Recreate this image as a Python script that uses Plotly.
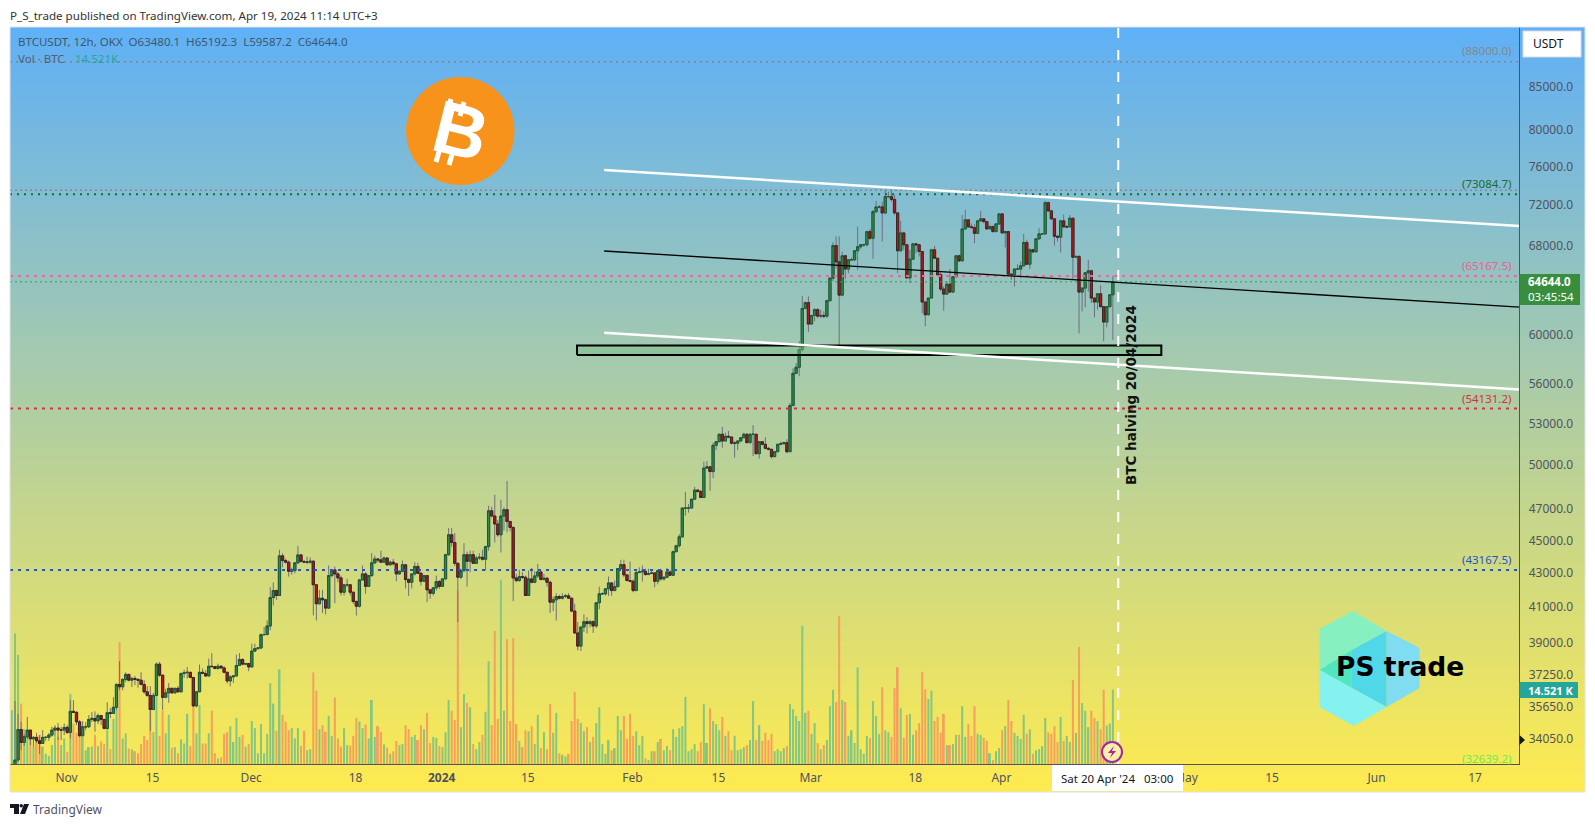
import numpy as np
import pandas as pd
import plotly.graph_objects as go

W, H = 1595, 827

# 12h candles, BTCUSDT OKX, the first one sits below the visible range
start_time = "2023-10-23 03:00"

close_prices = [32700,
    33075,34520,33900,34170,34490,34070,34140,33980,33850,34140,
    34140,34250,34490,34590,34490,34490,34620,34380,35410,35360,
    34890,34220,34650,34650,35010,35060,34940,35200,35010,34570,
    35340,35310,35610,36770,36650,37030,37290,36990,37080,37030,
    36990,36770,36390,36210,35500,36210,37830,37250,36110,36340,
    36570,36340,36570,36390,37340,37380,37400,37130,35680,36390,
    37400,37340,37210,37720,37700,37600,37720,37630,37400,36950,
    37160,37210,37760,38080,37830,37860,37680,38530,38660,38700,
    39430,39430,39910,41530,41940,41650,44030,43740,43640,43090,
    43130,43600,44090,43680,43640,43640,43700,42280,41170,41490,
    41400,40920,42830,43170,42930,42690,41840,42280,42280,41840,
    41300,41030,42570,42930,42190,42830,43600,43840,43780,43640,
    43900,43480,43640,43540,42930,43090,43480,42590,42430,42930,
    43380,42970,42490,42830,41980,41780,42100,42470,42190,42630,
    44100,45350,44860,43570,42730,43130,44100,43700,44100,43570,
    43900,43940,43820,44600,46900,46560,46040,45350,46560,46970,
    46200,45820,42690,42530,42770,42730,41650,42630,42430,42810,
    43050,42590,42670,42430,41260,41400,41590,41490,41590,41630,
    41490,40750,39520,38800,39850,40150,40040,40150,39910,41230,
    41750,41750,42040,42390,41940,42170,43250,43490,42870,42530,
    42490,41940,43010,43050,43090,42890,42950,42990,42490,43130,
    42630,42730,43050,42850,44290,44660,45220,47080,47080,47080,
    47670,48280,48190,47780,49790,49880,49550,51410,51670,52210,
    51720,52060,52010,51560,51560,51720,51960,52210,51600,52210,
    52210,50810,51670,51480,51190,51120,50600,50950,51480,51520,
    51600,50950,54360,56870,57350,58790,62280,62790,60930,61670,
    62170,61610,61670,61610,62960,64980,68020,66480,63450,67050,
    65810,66670,66670,67520,67900,68090,68090,69360,68710,71330,
    71800,71800,71200,72840,72840,72560,71200,67520,69230,68090,
    65000,66730,68180,68090,67450,62840,61730,63190,67610,66820,
    65290,63990,63540,64430,63720,65110,67050,66570,69620,70510,
    69820,69750,69190,70410,70610,70340,69620,69850,69360,70110,
    71100,69230,69360,65340,65290,65810,65810,66110,68310,66260,
    67610,67420,68660,69140,69140,72230,71400,70610,68910,68820,
    70410,69820,69820,70670,66910,66980,63720,64080,65470,65650,
    63190,62840,63570,62430,61100,62430,63480,64644]

high_prices = [32800,
    35930,35270,34890,34300,35130,34490,34200,34360,34250,34490,
    34200,34350,34650,34730,34840,34650,34810,34730,35970,35970,
    35420,34975,34930,34880,35220,35370,35410,35310,35170,34975,
    35860,35570,36120,36830,37990,37080,37400,37320,37160,37210,
    37080,37400,36990,36680,36680,36330,37920,37950,37250,36550,
    36850,36600,36590,36680,37380,37540,37680,37420,37160,36390,
    37810,37600,37510,38130,38420,37680,37860,37770,37720,37420,
    37250,37250,38340,38420,38130,37900,37900,38930,38930,38750,
    39490,39850,40220,42140,42430,42000,44410,44190,43860,43740,
    43310,43310,44660,44100,43780,43980,43940,43740,42300,41980,
    41980,41460,43440,43170,43380,43030,42830,42330,42630,42240,
    41880,41360,42630,43440,43030,42870,44200,44040,43880,44350,
    43980,43900,43740,43840,43600,43130,43740,43540,42670,42930,
    43640,43600,43030,42870,42830,41980,42140,42830,42570,42670,
    44160,45780,45780,45460,43640,43240,44820,44290,44350,44350,
    44040,44190,44410,44660,47230,47160,47960,46300,47630,47120,
    48910,46250,45870,42930,43170,43030,42830,43130,43290,43090,
    43540,43090,42930,42730,42530,41590,41780,41690,41780,41750,
    41790,41550,41170,40130,39850,40560,40410,40260,40220,41260,
    42170,41840,42060,42770,42430,42530,43290,43780,43800,42930,
    43680,42590,43170,43330,43440,43240,43240,43130,43030,43170,
    43240,42770,43290,43130,44350,44720,45390,47120,48160,47340,
    47670,48500,48340,48280,50240,50290,49880,51600,51720,52250,
    52750,52320,52450,52010,51720,51770,52010,52320,52280,52280,
    52890,52210,51720,51720,52010,51290,51170,51000,51520,51670,
    51670,51840,54560,57270,57680,59480,63380,62900,63340,61590,
    62310,62310,62170,62020,63050,65040,68330,68900,68900,67450,
    67130,66750,66880,67520,69850,68140,68210,69430,69620,71500,
    72400,72000,72330,73530,73350,73420,73010,71260,70410,69360,
    68090,67610,68240,68240,68020,67450,62840,63190,67700,67990,
    66820,65590,64230,64680,65810,65110,67130,67130,71000,71500,
    70510,70170,70070,70510,71400,70610,70000,70000,69930,70170,
    71160,71100,69430,69430,65430,65880,66260,66510,69140,68560,
    67770,67700,68710,69680,69190,72430,72330,71500,70670,69030,
    70510,71060,70000,71000,70670,67130,67130,64080,65530,66670,
    65750,63250,63620,64320,62460,62460,63340,65192]

low_prices = [32500,
    32900,33000,33540,33730,34060,33770,33700,33880,33350,33820,
    33980,33980,34170,34170,34010,34010,34250,34300,34090,35340,
    34730,34150,34490,34490,34590,34880,34410,34780,34730,34520,
    34550,35080,35420,35470,36470,36470,36900,36930,36640,36730,
    36600,36730,36300,36140,34450,35470,36170,37160,35470,36060,
    35840,36300,36300,36390,36390,37110,37080,37110,35630,35610,
    36390,37340,37160,37200,37680,37560,37540,37630,37340,36820,
    36680,36850,37200,37770,37770,37770,37460,37680,38480,38630,
    38630,39390,39430,39670,41070,41400,41650,43330,43560,42770,
    42890,42970,43540,43640,43600,43540,43540,40500,40220,41130,
    40640,40560,40880,42730,41200,42430,41650,41650,42140,41650,
    41170,40500,40950,42530,41750,42170,42750,43540,43640,43600,
    43600,43440,43440,43440,42490,42870,43030,42060,41630,42060,
    42830,42930,42240,42490,41260,41460,41650,41940,42040,42170,
    42590,44040,44600,43400,40130,42630,43030,42170,43030,43540,
    43540,43780,43740,43130,44350,46470,44860,45220,44240,45610,
    45500,45570,41320,42430,42470,42630,41650,42040,42370,42370,
    42690,42570,42570,42170,40640,40750,40220,41420,41420,41510,
    41460,40690,39490,38570,38530,39570,39490,39820,39520,39800,
    40850,41700,41650,41630,41630,41940,42140,43240,42730,42490,
    42430,41840,41900,42990,42470,42830,42870,42930,42140,42300,
    42530,42530,42690,42810,42810,44230,44540,45180,46580,46780,
    47080,47630,48120,47780,47780,49790,48230,49090,51070,51670,
    51240,51720,51920,51480,50530,51070,51670,51920,51600,51560,
    50640,50760,50460,51410,51120,51050,50460,50530,50950,51410,
    51520,50830,51000,54310,56790,56630,58600,62200,60250,60880,
    61160,61440,61440,61440,61440,62840,64680,65880,59060,63340,
    64920,65430,66570,66510,65750,67700,67900,67930,68560,66750,
    71160,71660,68400,71060,72730,72330,71000,65430,67450,67610,
    64980,64520,66670,67290,66980,61870,60740,61670,63190,66750,
    65220,63780,62080,63540,63720,63720,65040,66510,66570,69620,
    69750,69680,68240,69190,70340,70170,69620,69680,69260,69290,
    70000,69170,67830,65290,64830,64230,65750,64980,66050,66200,
    65810,67290,67380,68560,69030,69030,71330,70510,68020,68400,
    67360,69680,69680,69750,64830,66880,60140,62020,62370,63780,
    62750,61500,62170,62370,59480,60650,62370,59587]

# volume in thousands of BTC
volumes = [10.5,
    25.5,21.3,11.8,6.8,5.7,6.3,3.4,5.2,5.7,3.4,
    2.0,1.6,3.7,5.2,5.3,3.7,5.0,2.4,13.7,7.9,
    6.1,5.3,7.0,2.7,3.3,3.4,5.7,3.5,4.4,3.9,
    7.3,2.9,8.8,11.0,23.8,5.0,6.0,3.0,2.9,2.5,
    2.1,3.9,5.5,4.7,10.5,6.2,13.5,5.5,10.4,6.0,
    9.6,3.2,3.3,2.1,4.8,4.0,9.8,3.5,11.3,6.0,
    11.5,4.0,4.0,6.0,10.4,2.1,1.1,1.3,5.9,6.2,
    7.4,4.3,9.0,5.3,5.7,3.4,3.9,8.4,7.0,2.1,
    7.8,2.1,5.9,15.8,11.8,6.5,18.5,9.6,8.3,6.6,
    7.0,5.0,7.0,3.5,6.5,2.7,2.9,17.9,14.3,6.8,
    7.6,6.3,9.4,5.5,13.0,5.0,3.4,7.0,3.7,3.6,
    5.5,9.0,8.3,7.0,7.7,5.0,12.5,5.3,7.4,6.2,
    3.8,3.2,2.0,2.5,4.5,3.7,3.9,7.6,6.8,5.3,
    5.7,4.7,7.6,6.8,10.0,4.1,5.3,5.1,3.5,3.3,
    6.2,12.5,10.4,8.6,33.9,7.2,13.7,11.9,11.1,3.9,
    2.9,4.3,5.7,10.2,20.1,7.6,26.0,8.8,36.0,10.4,
    24.4,8.4,24.6,7.8,4.5,3.3,6.6,6.4,7.4,3.9,
    9.6,3.1,6.2,2.9,11.7,6.1,10.0,2.1,1.8,1.5,
    2.0,8.4,14.1,8.8,8.0,6.4,7.2,4.3,5.3,8.0,
    11.1,3.9,2.0,4.7,2.7,3.1,9.4,6.6,9.4,4.9,
    9.8,5.5,6.4,3.7,5.5,1.1,0.8,2.5,2.5,4.3,
    4.9,2.7,3.5,2.7,6.8,5.3,7.0,7.4,13.1,2.5,
    2.9,3.9,2.5,4.3,11.7,4.1,10.9,8.4,7.8,6.6,
    9.2,5.5,6.4,2.7,5.5,2.7,2.9,3.3,3.7,4.7,
    12.3,4.7,7.6,4.5,6.1,4.7,5.9,2.5,2.9,2.5,
    3.1,3.5,11.7,10.7,9.4,8.4,27.0,10.0,10.4,5.9,
    8.0,4.1,2.9,3.7,4.7,11.3,14.5,12.1,28.9,12.5,
    12.1,5.5,6.6,4.1,18.9,2.9,2.0,5.5,5.1,12.3,
    9.4,5.9,15.0,6.6,6.2,5.3,14.8,18.9,10.9,5.1,
    9.6,9.8,5.7,6.6,8.0,18.0,14.6,12.7,14.3,8.4,
    9.2,6.1,9.8,3.7,3.7,3.9,5.7,5.7,11.3,5.3,
    7.8,5.5,11.3,5.9,5.7,5.1,4.5,2.1,0.8,2.5,
    3.1,6.6,7.4,12.5,8.4,6.1,5.5,4.9,9.6,5.9,
    6.8,2.0,2.7,2.9,3.5,9.0,6.2,5.9,7.4,4.3,
    9.2,4.5,5.5,4.3,16.4,6.1,22.9,11.9,10.4,7.2,
    10.4,9.0,8.4,6.8,14.5,7.5,7.9,14.521]

price_ticks = [85000, 80000, 76000, 72000, 68000, 60000, 56000, 53000, 50000,
               47000, 45000, 43000, 41000, 39000, 37250, 35650, 34050]

time_ticks = ["2023-11-01", "2023-11-15", "2023-12-01", "2023-12-18", "2024-01-01", "2024-01-15",
              "2024-02-01", "2024-02-15", "2024-03-01", "2024-03-18", "2024-04-01",
              "2024-05-01", "2024-05-15", "2024-06-01", "2024-06-17"]
time_labels = ["Nov", "15", "Dec", "18", "<b>2024</b>", "15", "Feb", "15", "Mar", "18", "Apr",
               "May", "15", "Jun", "17"]

x_view = ["2023-10-22 19:30", "2024-06-24 04:50"]
y_view = [32890, 92390]

# dotted levels: value, colour, width
level_values = [88000.0, 73500.0, 73084.7, 65167.5, 64644.0, 54131.2, 43167.5]
level_colors = ["#8d7f86", "#8d6f78", "#1b6b35", "#f0649a", "#3d9b3d", "#d5303a", "#1f55c8"]
level_widths = [1.5, 1, 2, 2, 1, 2, 2]
level_dash = ["2px,4px", "2px,3px", "2px,5px", "3px,5px", "2px,3px", "3px,5px", "3px,5px"]

# channel lines
channel_x = ["2024-01-27 10:00", "2024-06-24 04:50"]
upper_line = [75610, 69900]
middle_line = [67500, 62400]
lower_line = [60200, 55590]

# support zone
zone_x = ["2024-01-23", "2024-04-27"]
zone_y = [58350, 59120]

halving_x = "2024-04-20 00:00"


def px(x):
    return x / W


def py(y):
    return 1 - y / H


def path(points):
    return "M " + " L ".join(f"{px(x):.5f},{py(y):.5f}" for x, y in points) + " Z"


dates = pd.date_range(start_time, periods=len(close_prices), freq="12h")
closes = np.array(close_prices, dtype=float)
opens = np.concatenate([[32600.0], closes[:-1]])
highs = np.maximum.reduce([np.array(high_prices, dtype=float), opens, closes])
lows = np.minimum.reduce([np.array(low_prices, dtype=float), opens, closes])
vol_colors = ["#85c781" if c >= o else "#f5a05c" for o, c in zip(opens, closes)]

fig = go.Figure()

# gradient behind the whole chart
grad_y = np.linspace(0, 1, 380)
fig.add_trace(go.Heatmap(x=[0, 1], y=grad_y, z=[[v, v] for v in grad_y],
                         colorscale=[[0, "#ffeb4f"], [1, "#5fb0f7"]], showscale=False,
                         hoverinfo="skip", xaxis="x", yaxis="y"))

fig.add_trace(go.Bar(x=dates, y=volumes, marker=dict(color=vol_colors, line=dict(width=0)),
                     xaxis="x2", yaxis="y2", showlegend=False))

# wicks first, bodies on top because the wicks are grey and the borders dark
fig.add_trace(go.Candlestick(x=dates, open=opens, high=highs, low=lows, close=closes,
                             whiskerwidth=0, xaxis="x2", yaxis="y3", showlegend=False,
                             increasing=dict(line=dict(color="#6f6f80", width=1), fillcolor="#6f6f80"),
                             decreasing=dict(line=dict(color="#6f6f80", width=1), fillcolor="#6f6f80")))
fig.add_trace(go.Candlestick(x=dates, open=opens, close=closes,
                             high=np.maximum(opens, closes), low=np.minimum(opens, closes),
                             whiskerwidth=0, xaxis="x2", yaxis="y3", showlegend=False,
                             increasing=dict(line=dict(color="#1d5a34", width=1), fillcolor="#2c8c48"),
                             decreasing=dict(line=dict(color="#43231f", width=1), fillcolor="#b8141c")))

for val, col, wd, ds in zip(level_values, level_colors, level_widths, level_dash):
    fig.add_trace(go.Scatter(x=x_view, y=[val, val], mode="lines", xaxis="x2", yaxis="y3",
                             line=dict(color=col, width=wd, dash=ds), showlegend=False, hoverinfo="skip"))

fig.add_trace(go.Scatter(x=[zone_x[0], zone_x[1], zone_x[1], zone_x[0], zone_x[0]],
                         y=[zone_y[0], zone_y[0], zone_y[1], zone_y[1], zone_y[0]],
                         mode="lines", fill="toself", fillcolor="rgba(120,190,130,0.45)",
                         line=dict(color="#000000", width=2), xaxis="x2", yaxis="y3",
                         showlegend=False, hoverinfo="skip"))
fig.add_trace(go.Scatter(x=channel_x, y=upper_line, mode="lines", line=dict(color="#ffffff", width=2.5),
                         xaxis="x2", yaxis="y3", showlegend=False, hoverinfo="skip"))
fig.add_trace(go.Scatter(x=channel_x, y=lower_line, mode="lines", line=dict(color="#ffffff", width=2.5),
                         xaxis="x2", yaxis="y3", showlegend=False, hoverinfo="skip"))
fig.add_trace(go.Scatter(x=channel_x, y=middle_line, mode="lines", line=dict(color="#000000", width=1.3),
                         xaxis="x2", yaxis="y3", showlegend=False, hoverinfo="skip"))
fig.add_trace(go.Scatter(x=[halving_x, halving_x], y=y_view, mode="lines",
                         line=dict(color="#ffffff", width=2, dash="10px,12px"),
                         xaxis="x2", yaxis="y3", showlegend=False, hoverinfo="skip"))

FONT = "Noto Sans"
GREY = "#50535e"


def note(x, y, text, size=12, color=GREY, anchor="left", angle=0, family=FONT, **kw):
    fig.add_annotation(x=px(x), y=py(y), xref="paper", yref="paper", text=text, showarrow=False,
                       xanchor=anchor, yanchor="middle", textangle=angle,
                       font=dict(family=family, size=size, color=color), **kw)


note(8, 15, "P_S_trade published on TradingView.com, Apr 19, 2024 11:14 UTC+3", size=11.6, color="#333333")
note(16, 42, "BTCUSDT, 12h, OKX&nbsp;&nbsp;O63480.1&nbsp;&nbsp;H65192.3&nbsp;&nbsp;L59587.2&nbsp;&nbsp;C64644.0",
     size=11.5, color="#3c5a6e")
note(16, 59, "Vol · BTC", size=11.5, color="#52606e")
note(73, 59, "14.521K", size=11.5, color="#26a69a")
note(31, 809, "TradingView", size=12, color="#50535e")

note(1513, 51, "(88000.0)", size=11.5, color="#84878f", anchor="right")
note(1513, 184, "(73084.7)", size=11.5, color="#1b6b35", anchor="right")
note(1513, 265, "(65167.5)", size=11.5, color="#ec5f93", anchor="right")
note(1513, 398, "(54131.2)", size=11.5, color="#d5303a", anchor="right")
note(1513, 559, "(43167.5)", size=11.5, color="#1f55c8", anchor="right")
note(1513, 758, "(32639.2)", size=11.5, color="#66ee55", anchor="right")

note(1131, 395, "<b>BTC halving 20/04/2024</b>", size=13.5, color="#111111", anchor="center", angle=-90,
     family="DejaVu Sans")
note(1117, 778, "Sat 20 Apr '24&nbsp;&nbsp;&nbsp;03:00", size=11.5, color="#131722", anchor="center")
note(1531, 44, "USDT", size=12, color="#131722")
note(1526, 289, "<b>64644.0</b><br>03:45:54", size=11.5, color="#ffffff", align="left")
note(1526, 690, "<b>14.521 K</b>", size=11, color="#ffffff")
note(1400, 666, "<b>PS trade</b>", size=26.5, color="#000000", anchor="center", family="DejaVu Sans")
note(460, 131, "<b>B</b>", size=74, color="#ffffff", anchor="center", angle=14, family="Liberation Sans")

shapes = []


def box(x0, y0, x1, y1, fill, line="rgba(0,0,0,0)", width=0):
    shapes.append(dict(type="rect", xref="paper", yref="paper", x0=px(x0), x1=px(x1), y0=py(y0), y1=py(y1),
                       fillcolor=fill, line=dict(color=line, width=width), layer="above"))


def poly(points, fill):
    shapes.append(dict(type="path", xref="paper", yref="paper", path=path(points), fillcolor=fill,
                       line=dict(width=0), layer="above"))


box(10, 27, 1585, 792, "rgba(0,0,0,0)", "#dfe2e8", 1)
box(1052, 765, 1183, 791, "#ffffff")
box(1519.5, 274, 1580, 305, "#388e3c")
box(1519.5, 682, 1578, 698, "#26a69a")
box(1523, 31, 1581, 57, "#ffffff", "#d8dce6", 1)
poly([(1519.5, 735), (1525, 740), (1519.5, 745)], "#131722")

# bitcoin coin
shapes.append(dict(type="circle", xref="paper", yref="paper", x0=px(406), x1=px(514.5), y0=py(77), y1=py(185),
                   fillcolor="#f7931a", line=dict(width=0), layer="above"))
for a, b in [((451, 99), (447, 113)), ((464, 102), (460, 116)), ((440, 148), (436, 162)), ((453, 151), (449, 165))]:
    shapes.append(dict(type="line", xref="paper", yref="paper", x0=px(a[0]), y0=py(a[1]), x1=px(b[0]), y1=py(b[1]),
                       line=dict(color="#ffffff", width=5), layer="above"))

# PS trade hexagons
poly([(1352.5, 611), (1386.7, 631), (1351.8, 650), (1319.6, 670), (1319.6, 629)], "#86f0c0")
poly([(1319.6, 670), (1351.8, 650), (1351.8, 688)], "#50e6c0")
poly([(1351.8, 650), (1386.7, 631), (1386.7, 707), (1351.8, 688)], "#50d8e8")
poly([(1386.7, 631), (1419.6, 648), (1419.6, 688), (1386.7, 707)], "#80dcf0")
poly([(1319.6, 670), (1351.8, 688), (1386.7, 707), (1353.7, 726), (1319.6, 707)], "#85f2f0")

# halving marker at the last bar
shapes.append(dict(type="circle", xref="paper", yref="paper", x0=px(1102), x1=px(1122), y0=py(742), y1=py(762),
                   fillcolor="#fdf0a0", line=dict(color="#9c27b0", width=2), layer="above"))
poly([(1114, 746), (1108, 753), (1112, 753), (1110, 758), (1116, 751), (1112, 751)], "#9c27b0")

# TradingView mark
poly([(10, 804), (19, 804), (19, 814), (14, 814), (14, 808), (10, 808)], "#131722")
poly([(24, 804), (29, 804), (25, 814), (20, 814)], "#131722")
shapes.append(dict(type="circle", xref="paper", yref="paper", x0=px(19.5), x1=px(23), y0=py(804), y1=py(807.5),
                   fillcolor="#131722", line=dict(width=0), layer="above"))

fig.update_layout(
    width=W, height=H, margin=dict(l=0, r=0, t=0, b=0), paper_bgcolor="#ffffff", plot_bgcolor="rgba(0,0,0,0)",
    showlegend=False, bargap=0.35, boxgap=0.2, boxgroupgap=0.1, shapes=shapes, hovermode=False,
    xaxis=dict(domain=[px(10), px(1585)], range=[0, 1], visible=False, anchor="y"),
    yaxis=dict(domain=[py(792), py(27)], range=[0, 1], visible=False, anchor="x"),
    xaxis2=dict(domain=[px(10), px(1519.3)], range=x_view, anchor="y2", type="date",
                rangeslider=dict(visible=False), tickvals=time_ticks, ticktext=time_labels,
                tickfont=dict(family=FONT, size=12, color=GREY), ticks="outside", ticklen=3,
                tickcolor="rgba(0,0,0,0)", showgrid=False, zeroline=False, showline=True,
                linecolor=GREY, linewidth=1),
    yaxis2=dict(domain=[py(764), py(27)], range=[0, 144], anchor="x2", visible=False),
    yaxis3=dict(domain=[py(764), py(27)], type="log", range=[float(np.log10(y_view[0])), float(np.log10(y_view[1]))],
                overlaying="y2", anchor="x2", side="right", tickvals=price_ticks,
                ticktext=[f"{p:.1f}" for p in price_ticks],
                tickfont=dict(family=FONT, size=12, color=GREY), ticks="outside", ticklen=6,
                tickcolor="rgba(0,0,0,0)", showgrid=False, zeroline=False, showline=True,
                linecolor=GREY, linewidth=1),
)

fig.write_html("out.html", config={"displayModeBar": False},
               post_script="document.body.style.margin='0';document.body.style.overflow='hidden';")
